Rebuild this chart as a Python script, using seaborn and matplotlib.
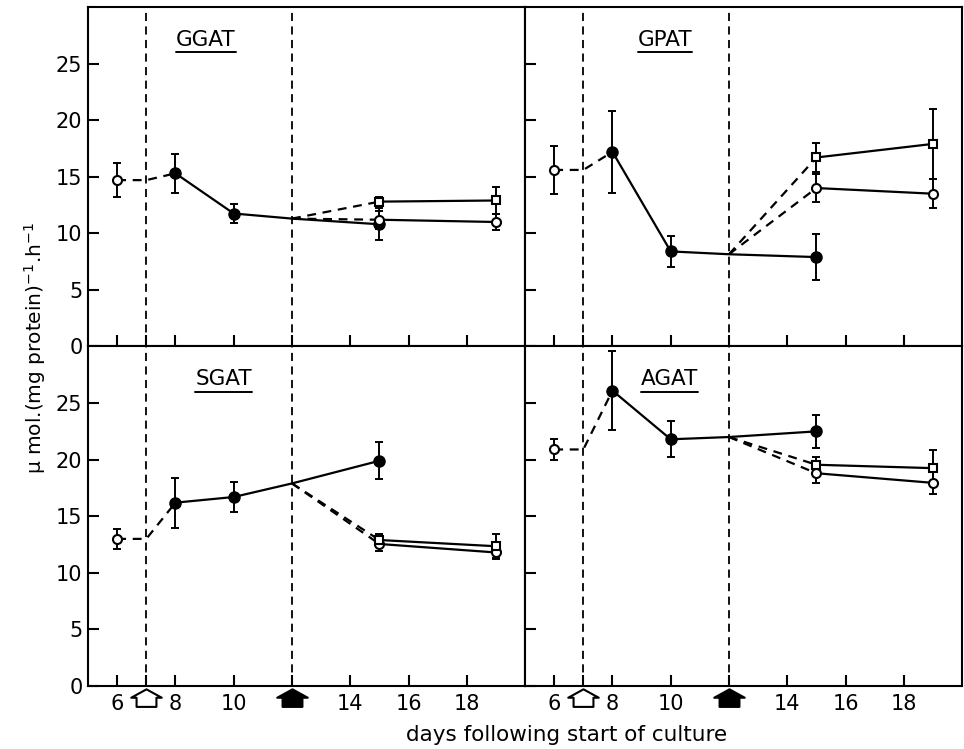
import matplotlib
matplotlib.use('Agg')
import matplotlib.pyplot as plt
from matplotlib.path import Path
from matplotlib.lines import Line2D
import seaborn as sns

# values (days after start of culture)
enzymes = ['GGAT', 'GPAT', 'SGAT', 'AGAT']

pre_day = 6
pre_mean = [14.7, 15.6, 13.0, 20.9]
pre_err = [1.5, 2.1, 0.9, 0.9]

arrow_days = [7, 12]          # open arrow, filled arrow

fill_days = [8, 10, 15]
fill_mean = [[15.3, 11.75, 10.8], [17.2, 8.4, 7.9], [16.2, 16.7, 19.9], [26.1, 21.8, 22.5]]
fill_err = [[1.75, 0.85, 1.4], [3.6, 1.4, 2.05], [2.2, 1.35, 1.65], [3.5, 1.6, 1.45]]
branch_mean = [11.3, 8.15, 17.9, 22.0]   # filled line value at the second arrow

post_days = [15, 19]
circ_mean = [[11.2, 11.0], [14.0, 13.5], [12.55, 11.8], [18.8, 17.95]]
circ_err = [[0.8, 0.75], [1.2, 1.3], [0.6, 0.55], [0.9, 1.0]]
sq_mean = [[12.8, 12.9], [16.7, 17.9], [12.9, 12.35], [19.55, 19.25]]
sq_err = [[0.4, 1.2], [1.25, 3.1], [0.5, 1.05], [0.65, 1.6]]

x_ticks = [6, 7, 8, 10, 12, 14, 16, 18]
x_ticklabels = ['6', '', '8', '10', '', '14', '16', '18']
y_ticks = [0, 5, 10, 15, 20, 25]

sns.set_theme(style='ticks')
plt.rcParams['font.family'] = ['DejaVu Sans']
plt.rcParams['axes.linewidth'] = 1.5
plt.rcParams['axes.edgecolor'] = 'black'

fig, axes = plt.subplots(2, 2, figsize=(9.64, 7.49), dpi=100, sharex=True, sharey=True)
fig.subplots_adjust(left=0.0913, right=0.998, top=0.9907, bottom=0.0841, wspace=0, hspace=0)

arrow = Path([(0, 0.6), (1, 0.05), (0.65, 0.05), (0.65, -0.55), (-0.65, -0.55),
              (-0.65, 0.05), (-1, 0.05), (0, 0.6)],
             [Path.MOVETO] + [Path.LINETO] * 6 + [Path.CLOSEPOLY])

lw = 1.6
titles = []
for i, ax in enumerate(axes.flat):
    ax.set_xlim(5, 20)
    ax.set_ylim(0, 30)
    for d in arrow_days:
        ax.axvline(d, color='black', lw=1.3, dashes=(4.5, 3), zorder=1)

    # pre-culture point joined to first point by dashed line
    sns.lineplot(x=[pre_day, arrow_days[0], fill_days[0]],
                 y=[pre_mean[i], pre_mean[i], fill_mean[i][0]],
                 ax=ax, color='black', lw=lw, estimator=None, sort=False,
                 linestyle=(0, (4, 3)))
    # filled series (solid), passes the second arrow
    sns.lineplot(x=fill_days[:2] + [arrow_days[1]] + fill_days[2:],
                 y=fill_mean[i][:2] + [branch_mean[i]] + fill_mean[i][2:],
                 ax=ax, color='black', lw=lw, estimator=None, sort=False)
    # branches after the second arrow
    for mean in (circ_mean[i], sq_mean[i]):
        sns.lineplot(x=[arrow_days[1], post_days[0]], y=[branch_mean[i], mean[0]],
                     ax=ax, color='black', lw=lw, estimator=None, sort=False,
                     linestyle=(0, (4, 3)))
        sns.lineplot(x=post_days, y=mean, ax=ax, color='black', lw=lw,
                     estimator=None, sort=False)

    # error bars
    ekw = dict(fmt='none', ecolor='black', elinewidth=1.4, capsize=2.8, capthick=1.4, zorder=3)
    ax.errorbar([pre_day], [pre_mean[i]], yerr=[pre_err[i]], **ekw)
    ax.errorbar(fill_days, fill_mean[i], yerr=fill_err[i], **ekw)
    ax.errorbar(post_days, circ_mean[i], yerr=circ_err[i], **ekw)
    ax.errorbar(post_days, sq_mean[i], yerr=sq_err[i], **ekw)

    # markers
    ax.plot([pre_day], [pre_mean[i]], 'o', ms=6.5, mfc='white', mec='black', mew=1.5, zorder=5)
    ax.plot(fill_days, fill_mean[i], 'o', ms=8, mfc='black', mec='black', zorder=5)
    ax.plot(post_days, circ_mean[i], 'o', ms=6.5, mfc='white', mec='black', mew=1.5, zorder=5)
    ax.plot(post_days, sq_mean[i], 's', ms=6, mfc='white', mec='black', mew=1.5, zorder=5)

    ax.set_xticks(x_ticks)
    ax.set_xticklabels(x_ticklabels)
    ax.set_yticks(y_ticks)
    ax.tick_params(direction='in', length=8, width=1.5, labelsize=15, pad=4, colors='black')
    ax.tick_params(axis='x', pad=6)
    ax.set_xlabel('')
    ax.set_ylabel('')
    for s in ax.spines.values():
        s.set_visible(True)
        s.set_color('black')
        s.set_linewidth(1.5)

    titles.append(ax.text([9.05, 9.8, 9.65, 9.95][i], 27.1, enzymes[i], fontsize=15.5,
                          ha='center', va='center', color='black'))

    if i >= 2:
        for d, fc in zip(arrow_days, ['white', 'black']):
            ax.plot(d, -0.036, marker=arrow, ms=22, mfc=fc, mec='black', mew=1.5,
                    transform=ax.get_xaxis_transform(), clip_on=False, zorder=6)

fig.text(0.036, 0.535, 'μ mol.(mg protein)$^{-1}$.h$^{-1}$', rotation=90,
         ha='center', va='center', fontsize=14.5, color='black')
fig.text(0.588, 0.019, 'days following start of culture', ha='center', va='center',
         fontsize=15.5, color='black')

# underline the enzyme names
fig.canvas.draw()
inv = fig.transFigure.inverted()
for t in titles:
    bb = t.get_window_extent()
    (x0, y0), (x1, _) = inv.transform([(bb.x0, bb.y0), (bb.x1, bb.y1)])
    fig.add_artist(Line2D([x0, x1], [y0 - 0.003, y0 - 0.003], color='black', lw=1.4,
                          transform=fig.transFigure))

fig.savefig('out.png', dpi=100, facecolor='white')
